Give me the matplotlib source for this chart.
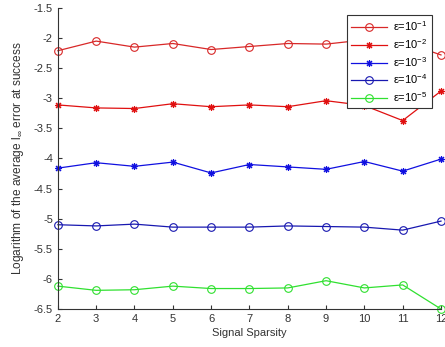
import numpy as np
import matplotlib.pyplot as plt

plt.rcParams['font.family'] = ['Liberation Sans', 'DejaVu Sans']
plt.rcParams['mathtext.fontset'] = 'custom'
plt.rcParams['mathtext.rm'] = 'Liberation Sans'
plt.rcParams['mathtext.it'] = 'Liberation Sans:italic'

sparsity = [2, 3, 4, 5, 6, 7, 8, 9, 10, 11, 12]
eps1 = [-2.21, -2.05, -2.15, -2.09, -2.19, -2.14, -2.09, -2.10, -2.03, -2.06, -2.28]
eps2 = [-3.11, -3.16, -3.17, -3.09, -3.14, -3.11, -3.14, -3.04, -3.12, -3.37, -2.88]
eps3 = [-4.16, -4.07, -4.13, -4.06, -4.24, -4.10, -4.14, -4.18, -4.05, -4.21, -4.01]
eps4 = [-5.10, -5.12, -5.09, -5.14, -5.14, -5.14, -5.12, -5.13, -5.14, -5.19, -5.04]
eps5 = [-6.12, -6.19, -6.18, -6.12, -6.16, -6.16, -6.15, -6.03, -6.15, -6.10, -6.50]

labels = ['ε=10$^{-1}$', 'ε=10$^{-2}$', 'ε=10$^{-3}$', 'ε=10$^{-4}$', 'ε=10$^{-5}$']
yticks = [-6.5, -6, -5.5, -5, -4.5, -4, -3.5, -3, -2.5, -2, -1.5]
ytick_labels = ['-6.5', '-6', '-5.5', '-5', '-4.5', '-4', '-3.5', '-3', '-2.5', '-2', '-1.5']

fig = plt.figure(figsize=(4.45, 3.47), dpi=100)
ax = fig.add_axes([0.130, 0.1095, 0.861, 0.8675])

asterisk = (8, 2, 0)
styles = [('#d82828', 'o', 'none', 5.5), ('#e01010', asterisk, None, 5),
          ('#1010e0', asterisk, None, 5), ('#1818b0', 'o', 'none', 5.5),
          ('#30e030', 'o', 'none', 5.5)]
for y, l, (c, m, fc, ms) in zip([eps1, eps2, eps3, eps4, eps5], labels, styles):
    kw = dict(markerfacecolor=fc) if fc else {}
    ax.plot(sparsity, y, color=c, marker=m, markersize=ms, linewidth=0.9,
            markeredgewidth=0.8, label=l, clip_on=False, **kw)

ax.set_xlim(2, 12)
ax.set_ylim(-6.5, -1.5)
ax.set_xticks(sparsity)
ax.set_yticks(yticks)
ax.set_yticklabels(ytick_labels)
ax.tick_params(direction='in', labelsize=8, length=3, color='#333333', labelcolor='#333333')
for s in ['top', 'right']:
    ax.spines[s].set_visible(False)
for s in ['left', 'bottom']:
    ax.spines[s].set_color('#333333')
    ax.spines[s].set_linewidth(0.8)

ax.set_xlabel('Signal Sparsity', fontsize=8, color='#333333', labelpad=3)
ax.set_ylabel(r'Logarithm of the average l$_\infty$ error at success', fontsize=8.6,
              color='#333333', labelpad=6)

leg = ax.legend(loc='upper right', bbox_to_anchor=(0.99, 0.995), fontsize=8, fancybox=False,
                framealpha=1, edgecolor='#333333', handlelength=3.2, borderpad=0.4,
                labelspacing=0.35, handletextpad=0.5)
leg.get_frame().set_linewidth(0.8)
leg.set_zorder(10)

fig.savefig('out.png', dpi=100)
